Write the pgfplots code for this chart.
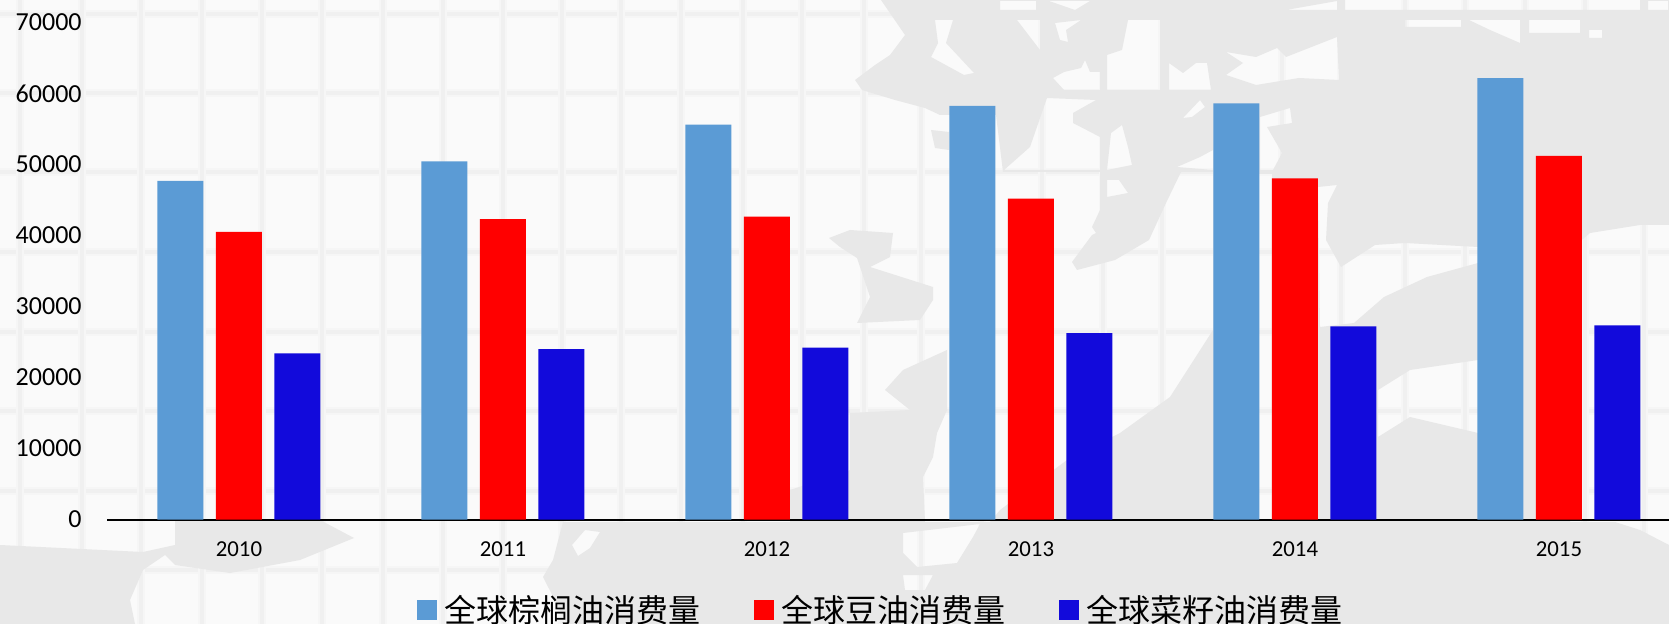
\documentclass[border=0pt]{standalone}
\usepackage{pgfplots}
\pgfplotsset{compat=1.18}
\usepackage{fontspec}
\setmainfont{Carlito}
\newfontfamily\cjk{Noto Sans CJK SC}
\definecolor{bgbase}{HTML}{FAFAFA}
\definecolor{bggrid}{HTML}{F0F0F0}
\definecolor{bggridsoft}{HTML}{F6F6F6}
\definecolor{land}{HTML}{E8E8E8}
\definecolor{palmc}{HTML}{5B9BD5}
\definecolor{soyc}{HTML}{FF0000}
\definecolor{rapec}{HTML}{120ADB}
\begin{document}
\begin{tikzpicture}
\useasboundingbox (0,0) rectangle (834.5pt,-312pt);
\begin{scope}[x=0.5pt,y=-0.5pt]
\clip (0,0) rectangle (1669,624);
\fill[bgbase] (0,0) rectangle (1669,624);
% background picture: pale tiles
\foreach \gy in {14,93,172,252,332,411,491,570}{
  \draw[bggridsoft,line width=4pt] (0,\gy) -- (1669,\gy);
  \draw[bggrid,line width=2pt] (0,\gy) -- (1669,\gy);}
\foreach \gx in {20,82,141,202,262,322,383,443,503,562,621,681,743,802,864,921,982,1042,1103,1162,1222,1282,1341,1405,1465,1525,1585,1644}{
  \draw[bggridsoft,line width=4pt] (\gx,0) -- (\gx,624);
  \draw[bggrid,line width=2pt] (\gx,0) -- (\gx,624);}
% background picture: faint world map
\fill[land,even odd rule]
  (881,0) -- (905,35) -- (890,55) -- (875,65) -- (855,80) -- (862,90) -- (895,100) -- (925,108) -- (940,115) -- (996,115) -- (1003,172) -- (1213,172) -- (1213,330) -- (1170,397) -- (1120,433) -- (1067,460) -- (1000,510) -- (990,522) -- (563,522) -- (553,560) -- (543,577) -- (567,624) -- (1669,624) -- (1669,0) -- cycle
  (1017,20) -- (1040,20) -- (1040,50) -- cycle
  (1055,23) -- (1081,20) -- (1066,30) -- (1068,42) -- (1060,40) -- cycle
  (1128,20) -- (1160,20) -- (1160,90) -- (1107,90) -- (1107,55) -- (1122,50) -- cycle
  (1053,78) -- (1064,72) -- (1081,68) -- (1085,60) -- (1090,72) -- (1100,72) -- (1100,90) -- (1064,90) -- cycle
  (1169,63) -- (1183,73) -- (1196,63) -- (1207,63) -- (1211,90) -- (1169,90) -- cycle
  (1226,52) -- (1256,57) -- (1277,48) -- (1286,57) -- (1337,37) -- (1339,80) -- (1299,78) -- (1256,85) -- (1226,75) -- (1243,63) -- cycle
  (1047,98) -- (1096,100) -- (1073,113) -- (1073,123) -- (1100,137) -- (1100,170) -- (1004,170) -- (1030,147) -- cycle
  (1107,170) -- (1111,133) -- (1122,125) -- (1128,147) -- (1132,165) -- cycle
  (1177,167) -- (1200,157) -- (1213,150) -- (1213,170) -- cycle
  (1183,118) -- (1200,100) -- (1205,107) -- (1192,117) -- cycle
  (1260,117) -- (1290,108) -- (1292,123) -- (1267,127) -- (1282,153) -- (1273,170) -- (1260,170) -- cycle
  (1259,174) -- (1272,174) -- (1272,520) -- (1259,520) -- cycle
  (1318,187) -- (1337,185) -- (1328,203) -- (1326,240) -- (1341,267) -- (1375,245) -- (1405,243) -- (1478,247) -- (1478,263) -- (1427,277) -- (1384,297) -- (1354,323) -- (1320,327) -- cycle
  (1378,390) -- (1410,370) -- (1478,360) -- (1478,433) -- (1410,417) -- (1378,437) -- cycle
  (1570,250) -- (1590,233) -- (1640,225) -- (1669,225) -- (1669,545) -- (1640,530) -- (1615,522) -- (1570,522) -- cycle
  (1345,0) -- (1640,0) -- (1640,10) -- (1345,10) -- cycle
  (1648,1) -- (1668,1) -- (1668,10) -- (1648,10) -- cycle
  (1000,1) -- (1036,1) -- (1036,10) -- (1000,10) -- cycle
  (1049,1) -- (1090,1) -- (1075,10) -- cycle
  (1286,10) -- (1337,1) -- (1337,10) -- cycle
  (1405,20) -- (1461,20) -- (1461,27) -- (1405,27) -- cycle
  (1469,20) -- (1520,20) -- (1520,43) -- (1490,30) -- cycle
  (1529,20) -- (1580,20) -- (1580,33) -- (1529,33) -- cycle
  (1589,30) -- (1602,30) -- (1602,38) -- (1589,38) -- cycle
  (935,20) -- (953,20) -- (946,43) -- (974,73) -- (964,75) -- (931,57) -- (938,43) -- cycle
  (903,533) -- (980,524) -- (973,537) -- (957,563) -- (917,567) -- (903,553) -- cycle
  (903,575) -- (933,575) -- (925,590) -- (905,590) -- cycle
  (585,530) -- (600,532) -- (590,548) -- (578,556) -- (572,545) -- cycle;
\fill[land,even odd rule]
  (1100,172) -- (1181,172) -- (1166,203) -- (1149,240) -- (1115,260) -- (1077,270) -- (1072,262) -- (1092,235) -- (1096,233) -- (1092,227) -- (1100,210) -- cycle
  (1107,180) -- (1119,180) -- (1128,193) -- (1107,197) -- cycle;
\fill[land] (829,238) -- (850,230) -- (893,233) -- (890,257) -- (870,267) -- (933,287) -- (933,300) -- (920,320) -- (857,323) -- (870,297) -- (857,258) -- (840,247) -- cycle;
\fill[land] (931,130) -- (949,132) -- (949,150) -- (935,148) -- cycle;
\fill[land] (947,350) -- (903,370) -- (885,390) -- (910,410) -- (850,413) -- (850,470) -- (790,490) -- (790,522) -- (925,522) -- (923,477) -- (933,457) -- (937,433) -- (947,410) -- cycle;
\fill[land] (0,545) -- (143,552) -- (175,545) -- (175,520) -- (320,520) -- (354,538) -- (300,560) -- (230,573) -- (175,565) -- (165,555) -- (143,570) -- (130,600) -- (135,624) -- (0,624) -- cycle;
\end{scope}
\begin{axis}[
  at={(53.75pt,-259.75pt)}, anchor=south west,
  scale only axis, width=780.75pt, height=248.5pt,
  xmin=-0.498, xmax=5.417, ymin=0, ymax=70000,
  axis x line=bottom, axis y line=left,
  x axis line style={-,black,line width=1pt},
  y axis line style={draw=none},
  xtick={0,1,2,3,4,5},
  xticklabels={2010,2011,2012,2013,2014,2015},
  ytick={0,10000,20000,30000,40000,50000,60000,70000},
  major tick length=0pt,
  clip=false,
  /pgf/number format/assume math mode=true,
  /pgf/number format/1000 sep={},
  scaled y ticks=false,
  yticklabel style={font=\fontsize{13}{13}\selectfont,anchor=east,inner sep=0pt,xshift=-12.75pt},
  xticklabel style={font=\fontsize{11.4}{11.4}\selectfont,anchor=north,inner sep=0pt,yshift=-11pt},
  ybar,
  bar width=23pt,
  legend columns=3,
  legend cell align=left,
  legend image code/.code={\fill[#1] (0pt,-5pt) rectangle (10pt,5pt);},
  legend style={
    at={(0.198,-0.182)},anchor=west,
    draw=none,fill=none,inner sep=0pt,outer sep=0pt,
    font=\cjk\fontsize{16}{16}\selectfont,
    nodes={inner sep=0pt},
    /tikz/every odd column/.append style={column sep=4pt},
    /tikz/every even column/.append style={column sep=26.5pt},
  },
]
\addplot[bar shift=-29.25pt,fill=palmc,draw=none] coordinates {(0,47700) (1,50450) (2,55600) (3,58250) (4,58600) (5,62150)};
\addlegendentry{全球棕榈油消费量}
\addplot[bar shift=0pt,fill=soyc,draw=none] coordinates {(0,40500) (1,42300) (2,42650) (3,45200) (4,48050) (5,51200)};
\addlegendentry{全球豆油消费量}
\addplot[bar shift=29.25pt,fill=rapec,draw=none] coordinates {(0,23400) (1,24000) (2,24200) (3,26250) (4,27200) (5,27350)};
\addlegendentry{全球菜籽油消费量}
\end{axis}
\end{tikzpicture}
\end{document}
